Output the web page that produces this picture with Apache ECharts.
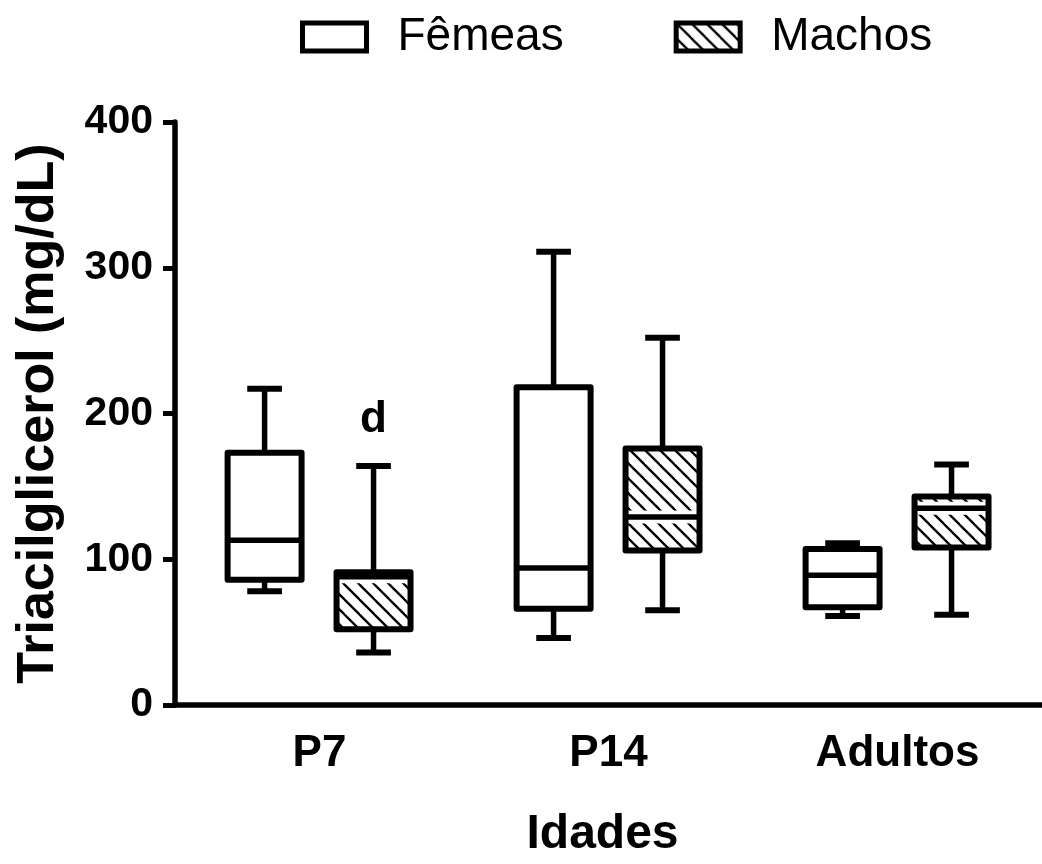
<!DOCTYPE html>
<html>
<head>
<meta charset="utf-8">
<script src="https://cdn.jsdelivr.net/npm/echarts@6/dist/echarts.min.js"></script>
<style>
  html, body { margin: 0; padding: 0; background: #fff; }
  #chart { width: 1042px; height: 864px; }
</style>
</head>
<body>
<div id="chart"></div>
<script>
const ages = ['P7', 'P14', 'Adultos'];
const groupNames = ['Fêmeas', 'Machos'];
// [min, Q1, median, Q3, max] for each age
const femeas = [
  [78, 86, 113, 173, 217],
  [46, 66, 94, 218, 311],
  [61, 67, 89, 107, 111]
];
const machos = [
  [36, 52, 88, 91, 164],
  [65, 106, 129, 176, 252],
  [62, 108, 135, 143, 165]
];
const machosNotes = ['d', '', ''];
const yMin = 0, yMax = 400, yStep = 100;

const FONT = '"Liberation Sans", Arial, sans-serif';

// diagonal hatch used for the Machos boxes
function makeHatch() {
  const s = 15;
  const c = document.createElement('canvas');
  c.width = s; c.height = s;
  const ctx = c.getContext('2d');
  ctx.fillStyle = '#fff';
  ctx.fillRect(0, 0, s, s);
  ctx.strokeStyle = '#000';
  ctx.lineWidth = 2.3;
  for (let k = -1; k <= 1; k++) {
    ctx.beginPath();
    ctx.moveTo(k * s - 1, -1);
    ctx.lineTo(k * s + s + 1, s + 1);
    ctx.stroke();
  }
  return { image: c, repeat: 'repeat' };
}
const hatch = makeHatch();

function boxRenderer(fill, offset, notes, hatched) {
  return function (params, api) {
    const i = api.value(0);
    const band = api.size([1, 0])[0];
    const cx = api.coord([i, 0])[0] + offset * band;
    const hw = band * 0.128;
    const cw = band * 0.06;
    const y = [1, 2, 3, 4, 5].map(d => api.coord([i, api.value(d)])[1]);
    const line = (x1, y1, x2, y2, w, col) => ({
      type: 'line',
      shape: { x1: x1, y1: y1, x2: x2, y2: y2 },
      style: { stroke: col || '#000', lineWidth: w, lineCap: 'butt' }
    });
    const kids = [
      line(cx, y[0], cx, y[1], 5.5),
      line(cx, y[3], cx, y[4], 5.5),
      line(cx - cw, y[0], cx + cw, y[0], 6),
      line(cx - cw, y[4], cx + cw, y[4], 6),
      {
        type: 'rect',
        shape: { x: cx - hw, y: y[3], width: hw * 2, height: y[1] - y[3] },
        style: { fill: fill, stroke: null }
      }
    ];
    if (hatched) kids.push(line(cx - hw, y[2], cx + hw, y[2], 13, '#fff'));
    kids.push(line(cx - hw, y[2], cx + hw, y[2], 5.5));
    kids.push({
      type: 'rect',
      shape: { x: cx - hw, y: y[3], width: hw * 2, height: y[1] - y[3] },
      style: { fill: null, stroke: '#000', lineWidth: 6, lineJoin: 'round' }
    });
    if (notes && notes[i]) {
      kids.push({
        type: 'text',
        style: {
          text: notes[i], x: cx, y: y[4] - 46,
          align: 'center', verticalAlign: 'middle',
          font: 'bold 44px ' + FONT, fill: '#000'
        }
      });
    }
    return { type: 'group', children: kids };
  };
}

const chart = echarts.init(document.getElementById('chart'));
chart.setOption({
  animation: false,
  backgroundColor: '#fff',
  legend: {
    left: 295,
    top: 9,
    itemWidth: 64,
    itemHeight: 28,
    itemGap: 110,
    textStyle: { fontFamily: FONT, fontSize: 46, color: '#000', padding: [0, 0, 0, 26] },
    data: [
      { name: groupNames[0], icon: 'rect', itemStyle: { color: '#fff', borderColor: '#000', borderWidth: 5 } },
      { name: groupNames[1], icon: 'rect', itemStyle: { color: hatch, borderColor: '#000', borderWidth: 5 } }
    ]
  },
  grid: { left: 175, top: 122, bottom: 158, width: 876 },
  xAxis: {
    type: 'category',
    data: ages,
    name: 'Idades',
    nameLocation: 'middle',
    nameGap: 106,
    nameTextStyle: { fontFamily: FONT, fontSize: 48, fontWeight: 'bold', color: '#000', padding: [0, 12, 0, 0] },
    axisLine: { lineStyle: { color: '#000', width: 5.5 } },
    axisTick: { alignWithLabel: true, length: 15, lineStyle: { color: '#000', width: 5 } },
    axisLabel: { fontFamily: FONT, fontSize: 44, fontWeight: 'bold', color: '#000', margin: 27 },
    splitLine: { show: false }
  },
  yAxis: {
    type: 'value',
    min: yMin,
    max: yMax,
    interval: yStep,
    name: 'Triacilglicerol (mg/dL)',
    nameLocation: 'middle',
    nameGap: 110,
    nameTextStyle: { fontFamily: FONT, fontSize: 52, fontWeight: 'bold', color: '#000' },
    axisLine: { show: true, lineStyle: { color: '#000', width: 5.5 } },
    axisTick: { show: true, length: 12, lineStyle: { color: '#000', width: 5 } },
    axisLabel: { fontFamily: FONT, fontSize: 41, fontWeight: 'bold', color: '#000', margin: 22 },
    splitLine: { show: false }
  },
  series: [
    {
      name: groupNames[0],
      type: 'custom',
      clip: false,
      itemStyle: { color: '#fff', borderColor: '#000' },
      renderItem: boxRenderer('#fff', -0.19, null, false),
      encode: { x: 0, y: [1, 2, 3, 4, 5] },
      data: femeas.map((s, i) => [i].concat(s))
    },
    {
      name: groupNames[1],
      type: 'custom',
      clip: false,
      itemStyle: { color: hatch, borderColor: '#000' },
      renderItem: boxRenderer(hatch, 0.187, machosNotes, true),
      encode: { x: 0, y: [1, 2, 3, 4, 5] },
      data: machos.map((s, i) => [i].concat(s))
    }
  ]
});
</script>
</body>
</html>
